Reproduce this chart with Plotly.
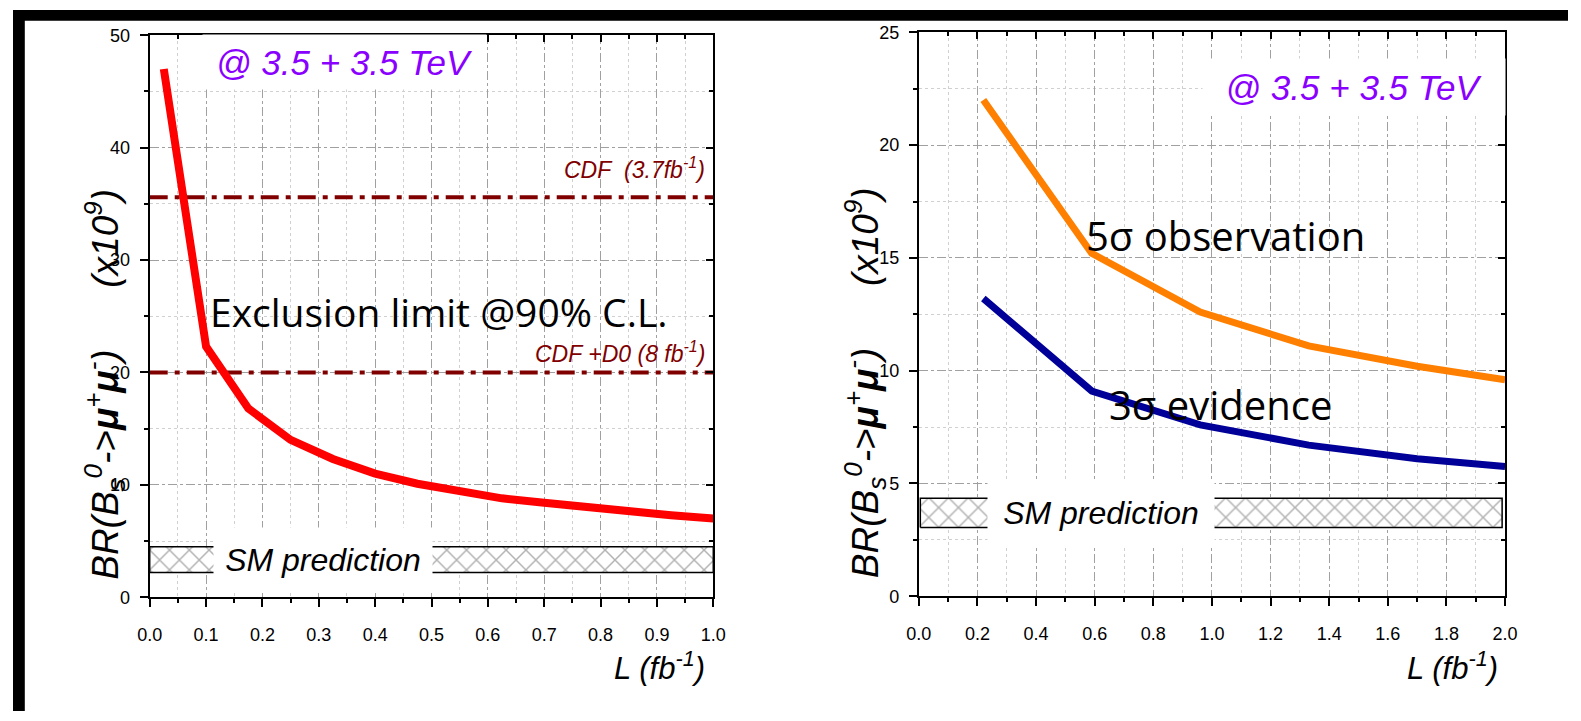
import plotly.graph_objects as go

# ---- data -------------------------------------------------------------
# left panel: exclusion limit at 90% C.L. versus integrated luminosity
lumi_excl = [0.025, 0.1, 0.175, 0.25, 0.325, 0.4, 0.475, 0.55, 0.625, 0.7,
             0.775, 0.85, 0.925, 1.0]
br_excl = [47.0, 22.3, 16.8, 14.0, 12.3, 11.0, 10.1, 9.4, 8.8, 8.4,
           8.0, 7.6, 7.3, 7.0]
cdf_limits = [35.6, 20.0]
cdf_labels = ["CDF&nbsp;&nbsp;(3.7fb<sup>-1</sup>)", "CDF +D0 (8 fb<sup>-1</sup>)"]
cdf_label_y = [38.2, 21.8]

# right panel: discovery reach
lumi_reach = [0.22, 0.59, 0.96, 1.33, 1.70, 2.0]
br_5sigma = [22.0, 15.2, 12.6, 11.1, 10.2, 9.6]
br_3sigma = [13.2, 9.1, 7.6, 6.7, 6.1, 5.75]

# Standard Model prediction bands (low, high) for each panel
sm_band_left = [2.2, 4.5]
sm_band_right = [3.05, 4.35]
sm_x_left = [0.0, 1.0]
sm_x_right = [0.005, 1.99]

# axis ranges and ticks
x_range_left, y_range_left = [0, 1.0], [0, 50]
x_range_right, y_range_right = [0, 2.0], [0, 25]
x_ticks_left = [round(0.1 * i, 1) for i in range(11)]
y_ticks_left = [0, 10, 20, 30, 40, 50]
x_ticks_right = [round(0.2 * i, 1) for i in range(11)]
y_ticks_right = [0, 5, 10, 15, 20, 25]

# ---- page geometry (pixels -> paper fractions) ------------------------
W, H = 1581, 721


def px(X):
    return X / W


def py(Y):
    return 1 - Y / H


# ---- styling ----------------------------------------------------------
SANS = "Liberation Sans, Arial, sans-serif"
BODY = "Open Sans, Lato, sans-serif"
TICK_FONT = dict(family=SANS, size=18, color="black")
DARKRED = "#800000"
PURPLE = "#8a00ff"


def main_axis(rng, ticks, minor_dtick, standoff):
    return dict(
        range=rng, tickvals=ticks,
        ticktext=[f"{t:.1f}" if isinstance(t, float) else str(t) for t in ticks],
        showline=True, linecolor="black", linewidth=2, mirror=True,
        ticks="outside", ticklen=8, tickwidth=2, tickcolor="black",
        showgrid=True, gridcolor="#a0a0a0", griddash="dashdot", gridwidth=1,
        zeroline=False, tickfont=TICK_FONT, ticklabelstandoff=standoff,
        minor=dict(dtick=minor_dtick, tick0=0, ticks="outside", ticklen=4, tickwidth=1.5,
                   tickcolor="black", showgrid=True, gridcolor="#d0d0d0", griddash="dot",
                   gridwidth=1),
    )


def mirror_axis(rng, ticks, minor_dtick, overlay, side, anchor):
    return dict(
        range=rng, tickvals=ticks, overlaying=overlay, side=side, anchor=anchor,
        showline=False, showticklabels=False, showgrid=False, zeroline=False,
        ticks="inside", ticklen=7, tickwidth=2, tickcolor="black",
        minor=dict(dtick=minor_dtick, tick0=0, ticks="inside", ticklen=4, tickwidth=1.5,
                   tickcolor="black", showgrid=False),
    )


fig = go.Figure()


def band(xs, lims, xa, ya):
    fig.add_trace(go.Scatter(
        x=[xs[0], xs[1], xs[1], xs[0], xs[0]],
        y=[lims[0], lims[0], lims[1], lims[1], lims[0]],
        mode="lines", fill="toself", fillcolor="white",
        fillpattern=dict(shape="x", fgcolor="#666666", bgcolor="white", size=14, solidity=0.2),
        line=dict(color="black", width=1.5),
        xaxis=xa, yaxis=ya, hoverinfo="skip", showlegend=False))


# left panel
band(sm_x_left, sm_band_left, "x", "y")
for lim in cdf_limits:
    fig.add_trace(go.Scatter(
        x=x_range_left, y=[lim, lim], mode="lines",
        line=dict(color=DARKRED, width=4, dash="18px,7px,5px,7px"),
        xaxis="x", yaxis="y", hoverinfo="skip", showlegend=False))
fig.add_trace(go.Scatter(
    x=lumi_excl, y=br_excl, mode="lines", line=dict(color="#ff0000", width=8),
    xaxis="x", yaxis="y", showlegend=False))

# right panel
band(sm_x_right, sm_band_right, "x2", "y2")
fig.add_trace(go.Scatter(
    x=lumi_reach, y=br_5sigma, mode="lines", line=dict(color="#ff8000", width=7),
    xaxis="x2", yaxis="y2", showlegend=False))
fig.add_trace(go.Scatter(
    x=lumi_reach, y=br_3sigma, mode="lines", line=dict(color="#000099", width=7),
    xaxis="x2", yaxis="y2", showlegend=False))

# empty traces that keep the mirrored tick axes alive
for xa, ya in [("x3", "y"), ("x", "y3"), ("x4", "y2"), ("x2", "y4")]:
    fig.add_trace(go.Scatter(x=[None], y=[None], xaxis=xa, yaxis=ya,
                             hoverinfo="skip", showlegend=False))

xl = main_axis(x_range_left, x_ticks_left, 0.05, 12)
xl.update(domain=[px(139), px(712)], anchor="y")
yl = main_axis(y_range_left, y_ticks_left, 5, 6)
yl.update(domain=[py(604), py(26)], anchor="x")
xr = main_axis(x_range_right, x_ticks_right, 0.1, 12)
xr.update(domain=[px(921), px(1517)], anchor="y2")
yr = main_axis(y_range_right, y_ticks_right, 2.5, 6)
yr.update(domain=[py(603), py(23)], anchor="x2")

fig.update_layout(
    width=W, height=H, autosize=False,
    margin=dict(l=0, r=0, t=0, b=0),
    paper_bgcolor="white", plot_bgcolor="white",
    xaxis=xl, yaxis=yl, xaxis2=xr, yaxis2=yr,
    xaxis3=mirror_axis(x_range_left, x_ticks_left, 0.05, "x", "top", "y"),
    yaxis3=mirror_axis(y_range_left, y_ticks_left, 5, "y", "right", "x"),
    xaxis4=mirror_axis(x_range_right, x_ticks_right, 0.1, "x2", "top", "y2"),
    yaxis4=mirror_axis(y_range_right, y_ticks_right, 2.5, "y2", "right", "x2"),
)

# black frame strips along the top and left edges of the page
fig.add_shape(type="rect", xref="paper", yref="paper", x0=0, x1=1, y0=py(11), y1=1,
              fillcolor="black", line_width=0, layer="above")
fig.add_shape(type="rect", xref="paper", yref="paper", x0=0, x1=px(12), y0=0, y1=1,
              fillcolor="black", line_width=0, layer="above")

ytitle = ("<i>BR(B<sub>s</sub><sup>0</sup>-&gt;<b>μ</b><sup>+</sup><b>μ</b><sup>-</sup>)"
          "&nbsp;&nbsp;&nbsp;&nbsp;&nbsp;&nbsp;(x10<sup>9</sup>)</i>")
xtitle = "<i>L (fb<sup>-1</sup>)</i>"
YT_FONT = dict(family=SANS, size=37, color="black")
XT_FONT = dict(family=SANS, size=31, color="black")
PURPLE_FONT = dict(family=SANS, size=35, color=PURPLE)
SM_FONT = dict(family=SANS, size=32, color="black")
LABEL_FONT = dict(family=BODY, size=40, color="black")

ann = [
    # axis titles
    dict(text=ytitle, xref="paper", yref="paper", x=px(93), y=py(385),
         xanchor="center", yanchor="middle", textangle=-90, showarrow=False, font=YT_FONT),
    dict(text=ytitle, xref="paper", yref="paper", x=px(866), y=py(383),
         xanchor="center", yanchor="middle", textangle=-90, showarrow=False, font=YT_FONT),
    dict(text=xtitle, xref="paper", yref="paper", x=px(706), y=py(675),
         xanchor="right", yanchor="middle", showarrow=False, font=XT_FONT),
    dict(text=xtitle, xref="paper", yref="paper", x=px(1512), y=py(675),
         xanchor="right", yanchor="middle", showarrow=False, font=XT_FONT),
    # energy labels on white boxes
    dict(text="<i>@ 3.5 + 3.5 TeV</i>", xref="x", yref="y", x=0.3464, y=47.6,
         xanchor="center", yanchor="middle", width=281, height=52, bgcolor="white",
         showarrow=False, font=PURPLE_FONT),
    dict(text="<i>@ 3.5 + 3.5 TeV</i>", xref="x2", yref="y2", x=1.483, y=22.56,
         xanchor="center", yanchor="middle", width=300, height=54, bgcolor="white",
         showarrow=False, font=PURPLE_FONT),
    # SM prediction labels sitting in a gap of the band
    dict(text="<i>SM prediction</i>", xref="x", yref="y", x=0.307, y=3.35,
         xanchor="center", yanchor="middle", width=216, height=62, bgcolor="white",
         showarrow=False, font=SM_FONT),
    dict(text="<i>SM prediction</i>", xref="x2", yref="y2", x=0.621, y=3.7,
         xanchor="center", yanchor="middle", width=224, height=62, bgcolor="white",
         showarrow=False, font=SM_FONT),
    # curve labels
    dict(text="Exclusion limit @90% C.L.", xref="x", yref="y", x=0.103, y=25.4,
         xanchor="left", yanchor="middle", showarrow=False,
         font=dict(family=BODY, size=39, color="black")),
    dict(text="5σ observation", xref="x2", yref="y2", x=0.564, y=16.0,
         xanchor="left", yanchor="middle", showarrow=False, font=LABEL_FONT),
    dict(text="3σ evidence", xref="x2", yref="y2", x=0.641, y=8.5,
         xanchor="left", yanchor="middle", showarrow=False, font=LABEL_FONT),
]
for lab, ly in zip(cdf_labels, cdf_label_y):
    ann.append(dict(text=f"<i>{lab}</i>", xref="x", yref="y", x=0.9895, y=ly,
                    xanchor="right", yanchor="middle", showarrow=False,
                    font=dict(family=SANS, size=23, color=DARKRED)))
fig.update_layout(annotations=ann)

fig.write_html("out.html")
